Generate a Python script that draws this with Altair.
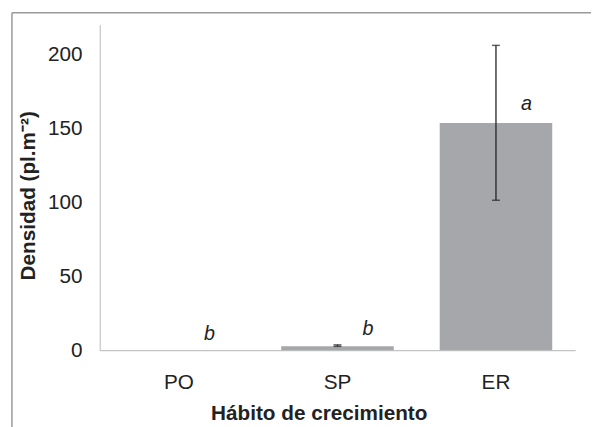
import altair as alt
import pandas as pd

categories = ["PO", "SP", "ER"]
means = [0.0, 2.7, 153.5]
err_low = [0.0, 2.6, 101.3]
err_high = [0.0, 3.6, 206.0]
letters = ["b", "b", "a"]
letter_y = [11, 14, 166]

df = pd.DataFrame({"cat": categories, "mean": means, "lo": err_low, "hi": err_high,
                   "letter": letters, "ly": letter_y})
df_err = df[df["hi"] > 0]

FONT = "Liberation Sans"

x_enc = alt.X("cat:N", sort=categories, title="Hábito de crecimiento",
              scale=alt.Scale(paddingInner=0.29, paddingOuter=0.145),
              axis=alt.Axis(labelAngle=0, ticks=False, labelFontSize=21, labelColor="#222",
                            labelFont=FONT, labelPadding=22, titleFont=FONT, titleFontSize=21,
                            titleFontWeight="bold", titleColor="#222", titlePadding=10,
                            titleX=222,
                            domainColor="#c4c4c4", domainWidth=1.2))
y_scale = alt.Scale(domain=[0, 220])

bars = alt.Chart(df).mark_bar(color="#a6a7aa").encode(
    x=x_enc,
    y=alt.Y("mean:Q", scale=y_scale, title="Densidad (pl.m⁻²)",
            axis=alt.Axis(values=[0, 50, 100, 150, 200], grid=False, ticks=False,
                          labelFontSize=21, labelColor="#222", labelFont=FONT, labelPadding=18,
                          titleFont=FONT, titleFontSize=21, titleFontWeight="bold",
                          titleColor="#222", titleX=-62, titleY=173,
                          domainColor="#c4c4c4", domainWidth=1.2)),
)

rules = alt.Chart(df_err).mark_rule(color="#222", strokeWidth=1.3).encode(
    x=alt.X("cat:N", sort=categories), y=alt.Y("lo:Q", scale=y_scale), y2="hi:Q")
cap_lo = alt.Chart(df_err).mark_tick(color="#222", size=8, thickness=1.5, orient="horizontal").encode(
    x=alt.X("cat:N", sort=categories), y=alt.Y("lo:Q", scale=y_scale))
cap_hi = alt.Chart(df_err).mark_tick(color="#222", size=8, thickness=1.5, orient="horizontal").encode(
    x=alt.X("cat:N", sort=categories), y=alt.Y("hi:Q", scale=y_scale))

text = alt.Chart(df).mark_text(font=FONT, fontSize=20, fontStyle="italic", color="#222", dx=31).encode(
    x=alt.X("cat:N", sort=categories), y=alt.Y("ly:Q", scale=y_scale), text="letter:N")

one = pd.DataFrame({"a": [0]})
frame_left = alt.Chart(one).mark_rule(color="#9a9a9a", strokeWidth=1.5).encode(
    x=alt.value(-89), y=alt.value(-12), y2=alt.value(420))
frame_top = alt.Chart(one).mark_rule(color="#9a9a9a", strokeWidth=1.5).encode(
    x=alt.value(-89), x2=alt.value(500), y=alt.value(-12))

chart = alt.layer(bars, rules, cap_lo, cap_hi, text, frame_left, frame_top).properties(
    width=482, height=330,
    autosize=alt.AutoSizeParams(type="none"),
    padding={"left": 93, "top": 14, "right": 16, "bottom": 75},
    background="white",
).configure_view(stroke=None)

chart.save("out.html", embed_options={"renderer": "svg", "actions": False})
